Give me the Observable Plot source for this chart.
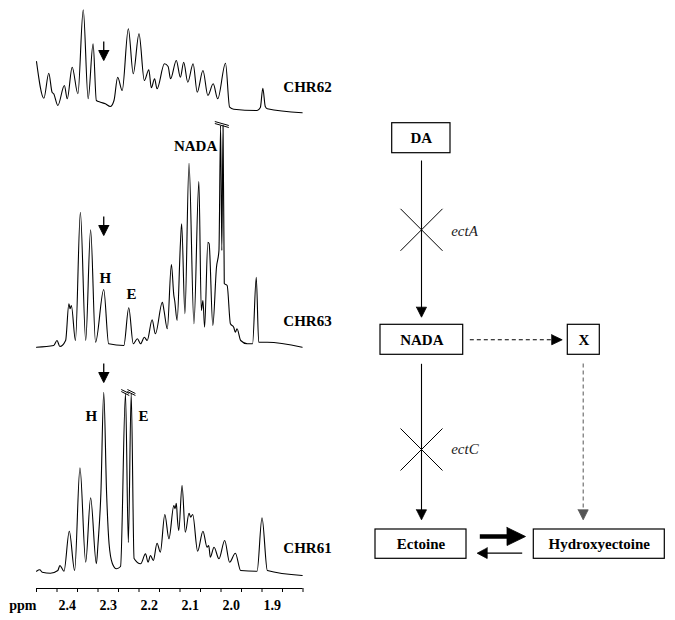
<!DOCTYPE html>
<html>
<head>
<meta charset="utf-8">
<script src="https://cdn.jsdelivr.net/npm/d3@7"></script>
<script src="https://cdn.jsdelivr.net/npm/@observablehq/plot@0.6"></script>
<style>
  html, body { margin: 0; padding: 0; background: #fff; }
  #wrap { display: flex; width: 675px; height: 620px; background: #fff; }
  #wrap svg { display: block; }
</style>
</head>
<body>
<div id="wrap"></div>
<script>
// ---------- DATA ----------
// Spectra: [chemical shift (ppm), intensity above the trace's baseline]
const chr62 = [[2.475,50],[2.457,13.3],[2.445,38.3],[2.437,19.3],[2.433,17.7],[2.423,6],[2.407,26],[2.400,12.7],[2.388,44.3],[2.374,17.7],[2.361,101.7],[2.349,12.7],[2.337,67.7],[2.329,11],[2.319,9.3],[2.307,7.7],[2.295,5],[2.286,11],[2.277,34.3],[2.266,21],[2.251,82.7],[2.239,37.7],[2.225,77.7],[2.212,31],[2.201,41.7],[2.195,23.7],[2.187,32.7],[2.181,22.7],[2.163,47.7],[2.154,45],[2.148,32.7],[2.134,51],[2.124,34.3],[2.116,49.3],[2.106,29.3],[2.093,47.7],[2.083,19.3],[2.069,41],[2.057,16],[2.044,27.7],[2.033,12.7],[2.014,48.3],[2.004,4.3],[1.994,2.3],[1.937,1],[1.929,4],[1.923,23.3],[1.917,5],[1.912,2.7],[1.827,-1.3]];
const chr63 = [[2.475,-1.7],[2.433,0],[2.425,5],[2.418,-1],[2.404,5],[2.396,41.7],[2.393,36.7],[2.390,40],[2.380,5],[2.368,133.3],[2.355,5],[2.343,115.7],[2.331,3.3],[2.311,56],[2.299,1.7],[2.262,0],[2.250,37.7],[2.239,1.7],[2.229,6.7],[2.221,1.7],[2.212,8.3],[2.205,5],[2.193,25.7],[2.185,11.7],[2.168,43.3],[2.164,35],[2.156,16.7],[2.146,81],[2.140,50],[2.138,45],[2.132,25],[2.124,101.7],[2.121,121.7],[2.113,31.7],[2.103,182.3],[2.091,21.7],[2.079,164],[2.073,35],[2.069,45],[2.065,18.3],[2.057,103.3],[2.054,101.7],[2.045,20],[2.036,78.3],[2.030,95],[2.026,220],[2.023,95],[2.020,220],[2.017,62],[2.010,60],[2.002,21.7],[1.994,18.3],[1.990,13.3],[1.986,16.7],[1.977,5],[1.961,1.7],[1.948,1.7],[1.939,68.3],[1.933,3.3],[1.912,3.3],[1.827,-1.7]];
const chr61 = [[2.475,1.3],[2.467,2.7],[2.461,0.3],[2.441,-0.7],[2.423,2],[2.418,7],[2.408,1.3],[2.395,41.3],[2.382,2],[2.369,104.7],[2.355,10.3],[2.343,74.7],[2.329,8.7],[2.325,28.7],[2.318,78.7],[2.311,180.3],[2.304,78.7],[2.298,28.7],[2.290,9],[2.280,3.7],[2.270,6],[2.258,179],[2.251,30],[2.244,179],[2.237,14],[2.221,8.7],[2.209,18.7],[2.203,10.3],[2.197,17],[2.190,12],[2.181,29.3],[2.173,20.3],[2.162,58],[2.152,33.7],[2.140,67],[2.137,63.7],[2.134,69.3],[2.131,52],[2.128,42],[2.120,87],[2.112,40.3],[2.103,59.3],[2.099,55.3],[2.094,58],[2.082,21.3],[2.069,41.3],[2.059,25.3],[2.055,27],[2.051,15.3],[2.042,25.3],[2.030,13.7],[2.016,32],[2.004,10.3],[1.990,19.3],[1.977,2],[1.937,1.3],[1.925,54.7],[1.912,2],[1.827,-3]];
const strainNames = ["CHR62", "CHR63", "CHR61"];
// peak labels: [strain, ppm, height above baseline, text]
const peakLabels = [["CHR63",2.087,199,"NADA"],["CHR63",2.307,67.5,"H"],["CHR63",2.243,51.5,"E"],["CHR61",2.341,156,"H"],["CHR61",2.214,156,"E"]];
// downward marker arrows: [strain, ppm, tip height above baseline]
const markerArrows = [["CHR62",2.311,51],["CHR63",2.311,110],["CHR61",2.311,190]];
// off-scale peaks (break marks): [strain, ppm, top height, half width px]
const breakMarks = [["CHR63",2.023,220,7],["CHR61",2.2585,179,4],["CHR61",2.2435,179,4]];
const ppmTicks = [2.475,2.425,2.375,2.325,2.275,2.225,2.175,2.125,2.075,2.025,1.975,1.925,1.875,1.825];
const ppmLabels = [2.4,2.3,2.2,2.1,2.0,1.9];

// Pathway diagram
const nodes = ["DA","NADA","X","Ectoine","Hydroxyectoine"];
const genes = ["ectA","ectC"];

// ---------- LAYOUT ----------
const serif = "'Liberation Serif','Times New Roman',serif";
const baseOffset = {CHR62: 477, CHR63: 243, CHR61: 16};
const traces = {CHR62: chr62, CHR63: chr63, CHR61: chr61};
const pxPerPpm = (302.5 - 36) / (2.475 - 1.825);

const lineData = strainNames.flatMap(s => traces[s].map(([p, v]) => ({s, p, v: v + baseOffset[s]})));

// arrow geometry (spectra)
const arrowStems = markerArrows.map(([s, p, t]) => ({p, y1: t + baseOffset[s] + 9, y2: t + baseOffset[s] + 19}));
const arrowHeads = markerArrows.flatMap(([s, p, t], i) => {
  const tip = t + baseOffset[s], h = 5 / pxPerPpm;
  return [[p - h, tip + 10], [p + h, tip + 10], [p, tip], [p - h, tip + 10]].map(([x, y]) => ({k: i, x, y}));
});
const breaks = breakMarks.flatMap(([s, p, top, hw]) => {
  const y = top + baseOffset[s], dx = hw / pxPerPpm;
  return [0, 2].map(o => ({x1: p - dx, x2: p + dx, y1: y - 2 + o, y2: y + 2 + o}));
});

const left = Plot.plot({
  width: 340, height: 620,
  marginLeft: 36, marginRight: 37.5, marginTop: 0, marginBottom: 32,
  x: {domain: [2.475, 1.825], axis: null},
  y: {domain: [0, 588], axis: null},
  style: {fontFamily: serif, background: "white", color: "black", overflow: "visible"},
  marks: [
    Plot.ruleY([0], {stroke: "black", strokeWidth: 1}),
    Plot.ruleX(ppmTicks, {x: d => d, y1: () => 0, y2: () => -4, stroke: "black", strokeWidth: 1}),
    Plot.text(ppmLabels, {x: d => d, y: () => -17.5, text: d => d.toFixed(1), fontWeight: "bold", fontSize: 14, fill: "black"}),
    Plot.text(["ppm"], {x: () => 2.475, y: () => -17.5, text: d => d, textAnchor: "end", fontWeight: "bold", fontSize: 14, fill: "black"}),
    Plot.line(lineData, {x: "p", y: "v", z: "s", curve: "monotone-x", stroke: "black", strokeWidth: 1.1}),
    Plot.link(breaks, {x1: "x1", x2: "x2", y1: "y1", y2: "y2", stroke: "black", strokeWidth: 1}),
    Plot.link(arrowStems, {x1: "p", x2: "p", y1: "y1", y2: "y2", stroke: "black", strokeWidth: 1.3}),
    Plot.line(arrowHeads, {x: "x", y: "y", z: "k", fill: "black", stroke: "black", strokeWidth: 1}),
    Plot.text(strainNames, {x: () => 1.873, y: s => baseOffset[s] + 24, text: d => d, textAnchor: "start", fontWeight: "bold", fontSize: 15, fill: "black"}),
    Plot.text(peakLabels, {x: d => d[1], y: d => d[2] + baseOffset[d[0]], text: d => d[3], fontWeight: "bold", fontSize: 15, fill: "black"})
  ]
});

// ---- pathway diagram (panel coordinates) ----
const box = {
  DA: [51.7, 110, 122.7, 152.7],
  NADA: [40, 122.7, 324.3, 354.3],
  X: [227.3, 259.3, 324.3, 354.3],
  Ectoine: [35, 126, 529, 558.3],
  Hydroxyectoine: [193.3, 324.3, 529, 558.3]
};
const solidLinks = [[81, 160, 81, 308], [81, 363.3, 81, 510]];
const dashLinks = [[129.3, 339.3, 212, 339.3, "black"], [242.7, 363, 242.7, 510, "#666"]];
const thickLink = [[139.3, 536, 168, 536]];
const thinLink = [[181.7, 552.7, 146, 552.7]];
// heads: [tipX, tipY, direction, length, halfWidth]
const heads = [[81, 316.7, "down", 10, 5], [81, 519.3, "down", 10, 5], [221.7, 339.3, "right", 10.5, 5], [242.7, 519.3, "down", 10, 5], [185, 536, "right", 18.5, 9], [136.7, 552.7, "left", 10, 5.3]];
const headPts = heads.flatMap(([x, y, dir, L, w], k) => {
  let pts;
  if (dir === "down") pts = [[x - w, y - L], [x + w, y - L], [x, y]];
  else if (dir === "right") pts = [[x - L, y - w], [x - L, y + w], [x, y]];
  else pts = [[x + L, y - w], [x + L, y + w], [x, y]];
  pts.push(pts[0]);
  return pts.map(([px, py]) => ({k, x: px, y: py}));
});
const crossCenters = [[81, 229.3], [81, 449]];
const crossLinks = crossCenters.flatMap(([cx, cy]) => [[cx - 21, cy - 21, cx + 21, cy + 21], [cx - 21, cy + 21, cx + 21, cy - 21]]);
const geneText = [[110.7, 230.7], [110.7, 449]];
const headColor = ["black", "black", "black", "#555", "black", "black"];

const right = Plot.plot({
  width: 335, height: 620,
  marginLeft: 0, marginRight: 0, marginTop: 0, marginBottom: 0,
  x: {domain: [0, 335], range: [0, 335], axis: null},
  y: {domain: [0, 620], range: [0, 620], axis: null},
  style: {fontFamily: serif, background: "white", color: "black", overflow: "visible"},
  marks: [
    Plot.link(solidLinks, {x1: d => d[0], y1: d => d[1], x2: d => d[2], y2: d => d[3], stroke: "black", strokeWidth: 1.1}),
    Plot.link(dashLinks, {x1: d => d[0], y1: d => d[1], x2: d => d[2], y2: d => d[3], stroke: d => d[4], strokeWidth: 1.1, strokeDasharray: "4,3"}),
    Plot.link(thickLink, {x1: d => d[0], y1: d => d[1], x2: d => d[2], y2: d => d[3], stroke: "black", strokeWidth: 4.5}),
    Plot.link(thinLink, {x1: d => d[0], y1: d => d[1], x2: d => d[2], y2: d => d[3], stroke: "black", strokeWidth: 1.3}),
    Plot.line(headPts, {x: "x", y: "y", z: "k", fill: d => headColor[d.k], stroke: d => headColor[d.k], strokeWidth: 0.8}),
    Plot.link(crossLinks, {x1: d => d[0], y1: d => d[1], x2: d => d[2], y2: d => d[3], stroke: "black", strokeWidth: 1}),
    Plot.rect(nodes, {x1: d => box[d][0], x2: d => box[d][1], y1: d => box[d][2], y2: d => box[d][3], fill: "white", stroke: "black", strokeWidth: 1.2}),
    Plot.text(nodes, {x: d => (box[d][0] + box[d][1]) / 2, y: d => (box[d][2] + box[d][3]) / 2, text: d => d, fontWeight: "bold", fontSize: 15, fill: "black"}),
    Plot.text(genes, {x: (d, i) => geneText[i][0], y: (d, i) => geneText[i][1], text: d => d, textAnchor: "start", fontStyle: "italic", fontSize: 15, fill: "#222"})
  ]
});

document.getElementById("wrap").append(left, right);
</script>
</body>
</html>
